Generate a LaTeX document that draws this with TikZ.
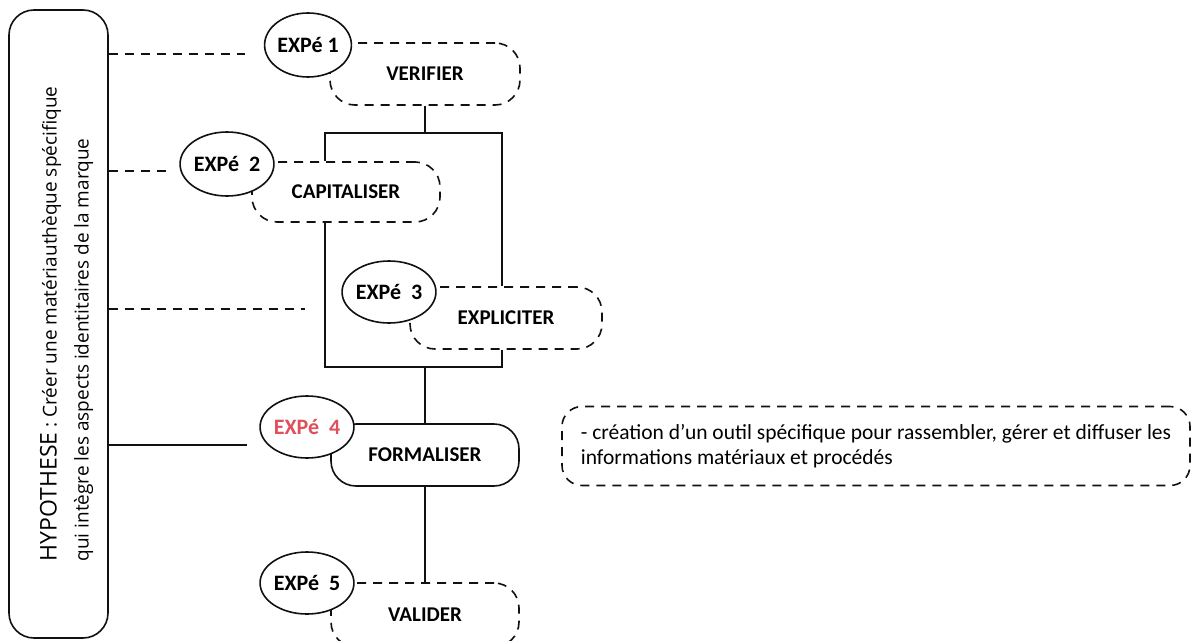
\documentclass[tikz,border=0pt]{standalone}
\usepackage{fontspec}
\setmainfont{Carlito}
\newfontfamily\hypfont{Open Sans}
\usetikzlibrary{positioning,shapes.geometric}
\definecolor{ExpRed}{HTML}{E0505C}
\definecolor{Ink}{HTML}{111111}
\newcommand{\stepfont}{\fontsize{21}{24}\selectfont\bfseries}
\tikzset{
  stepbox/.style={draw=Ink, line width=1.6pt, rounded corners=25pt,
    minimum width=190pt, minimum height=62pt, fill=white, font=\stepfont},
  dashbox/.style={stepbox, dash pattern=on 9pt off 7pt},
  expnode/.style={draw=Ink, ellipse, line width=1.6pt, fill=white, inner sep=0pt,
    minimum width=86pt, minimum height=63pt, font=\fontsize{22}{24}\selectfont\bfseries},
  link/.style={draw=Ink, line width=1.6pt},
  dashlink/.style={link, dash pattern=on 9pt off 7pt},
}
\begin{document}
\begin{tikzpicture}[x=1pt, y=-1pt,
  hypbox/.style={draw=Ink, line width=1.6pt, rounded corners=25pt,
    minimum width=628pt, minimum height=99pt, align=left,
    font=\hypfont\fontsize{19}{32}\selectfont},
  descbox/.style={draw=Ink, line width=1.6pt, rounded corners=20pt,
    dash pattern=on 9pt off 7pt, minimum width=628pt, minimum height=79pt,
    align=left, font=\fontsize{21.5}{25}\selectfont},
]
  \useasboundingbox (0,0) rectangle (1194,640);

  % hypothese
  \node[hypbox, rotate=90] (hyp) at (58.5,324)
    {\rule{0pt}{33pt}{\fontsize{23}{32}\selectfont HYPOTHESE} : Créer une matériauthèque spécifique\\
     qui intègre les aspects identitaires de la marque};

  % etapes
  \node[dashbox] (verif) at (425,74) {VERIFIER};
  \node[dashbox, minimum width=188pt, minimum height=60pt] (capit) at (346,192) {CAPITALISER};
  \node[dashbox, minimum width=192pt] (expl) at (506,318) {EXPLICITER};
  \node[stepbox, minimum width=188pt] (formal) at (425,455) {FORMALISER};
  \node[dashbox, minimum width=188pt, minimum height=64pt] (valid) at (425,615) {VALIDER};

  \node[expnode, minimum width=84pt, minimum height=64pt] (e1) at (308,45) {EXPé 1};
  \node[expnode, minimum width=82pt, minimum height=64pt] (e2) at (227,164) {EXPé~ 2};
  \node[expnode, minimum height=62pt] (e3) at (389,292) {EXPé~ 3};
  \node[expnode, minimum height=62pt, text=ExpRed] (e4) at (307,427) {EXPé~ 4};
  \node[expnode, minimum height=62pt] (e5) at (307,583) {EXPé~ 5};

  \node[descbox] (desc) at (876,446)
    {- création d'un outil spécifique pour rassembler, gérer et diffuser les\\
     informations matériaux et procédés};

  % liens vers l'hypothese
  \coordinate (h1) at (245,54);
  \coordinate (h2) at (170,171);
  \coordinate (h3) at (305,309);
  \coordinate (h4) at (247,445);
  \draw[dashlink] (h1 -| hyp.south) -- (h1);
  \draw[dashlink] (h2 -| hyp.south) -- (h2);
  \draw[dashlink] (h3 -| hyp.south) -- (h3);
  \draw[link] (h4 -| hyp.south) -- (h4);

  % crochet capitaliser / expliciter
  \coordinate (tl) at (325,133);
  \coordinate (tr) at (502,133);
  \coordinate (bl) at (325,367);
  \coordinate (br) at (502,367);
  \draw[link] (verif.south) -- (verif.south |- tl);
  \draw[link] (tl |- capit.north) -- (tl) -- (tr) -- (tr |- expl.north);
  \draw[link] (bl |- capit.south) -- (bl) -- (br) -- (br |- expl.south);
  \draw[link] (formal.north) -- (formal.north |- bl);
  \draw[link] (formal.south) -- (valid.north);
\end{tikzpicture}
\end{document}
